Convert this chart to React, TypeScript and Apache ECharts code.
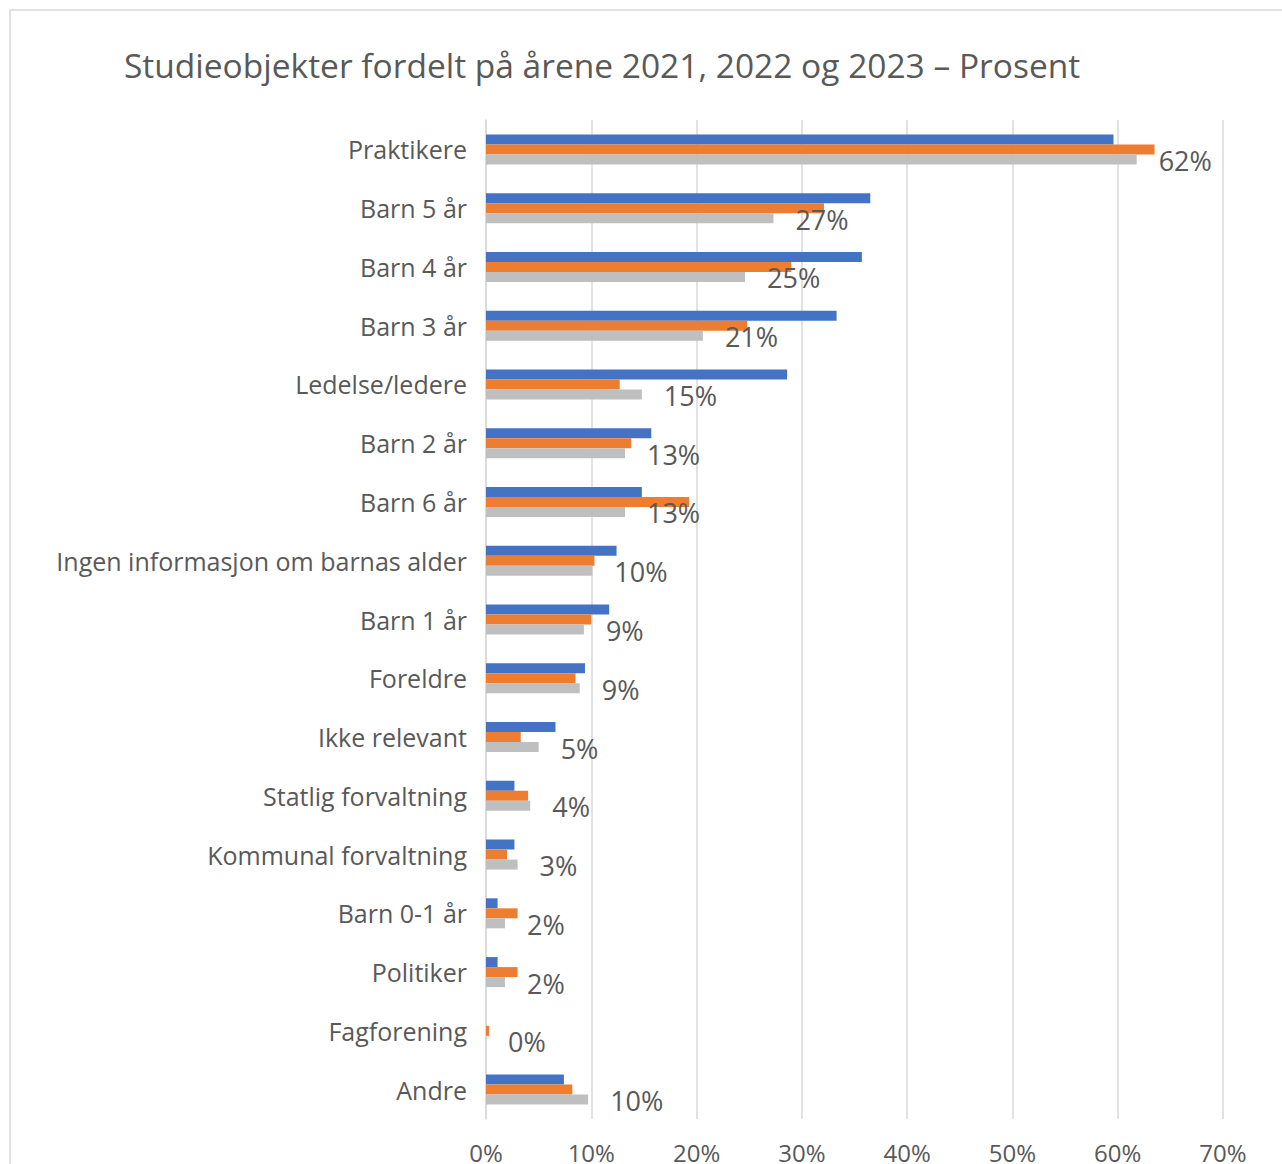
import React, { useEffect, useRef } from "react";
import * as echarts from "echarts";

const titleText = "Studieobjekter fordelt på årene 2021, 2022 og 2023 – Prosent";

const categories = [
  "Praktikere",
  "Barn 5 år",
  "Barn 4 år",
  "Barn 3 år",
  "Ledelse/ledere",
  "Barn 2 år",
  "Barn 6 år",
  "Ingen informasjon om barnas alder",
  "Barn 1 år",
  "Foreldre",
  "Ikke relevant",
  "Statlig forvaltning",
  "Kommunal forvaltning",
  "Barn 0-1 år",
  "Politiker",
  "Fagforening",
  "Andre",
];

const seriesNames = ["2021", "2022", "2023"];

const values2021 = [59.6, 36.5, 35.7, 33.3, 28.6, 15.7, 14.8, 12.4, 11.7, 9.4, 6.6, 2.7, 2.7, 1.1, 1.1, 0, 7.4];
const values2022 = [63.5, 32.1, 29.0, 24.8, 12.7, 13.8, 19.3, 10.3, 10.0, 8.5, 3.3, 4.0, 2.0, 3.0, 3.0, 0.3, 8.2];
const values2023 = [61.8, 27.3, 24.6, 20.6, 14.8, 13.2, 13.2, 10.1, 9.3, 8.9, 5.0, 4.2, 3.0, 1.8, 1.8, 0, 9.7];

const xTicks = { min: 0, max: 70, interval: 10 };

const colors = ["#4472C4", "#ED7D31", "#BFBFBF"];
const textColor = "#595959";
const font = "'Open Sans', 'Noto Sans', sans-serif";

export default function App() {
  const ref = useRef<HTMLDivElement>(null);

  useEffect(() => {
    if (!ref.current) return;
    const chart = echarts.init(ref.current, null, { renderer: "svg" });
    const data = [values2021, values2022, values2023];
    chart.setOption({
      animation: false,
      backgroundColor: "#ffffff",
      textStyle: { fontFamily: font },
      graphic: [
        {
          type: "rect",
          shape: { x: 10, y: 10, width: 1400, height: 1400 },
          style: { fill: "none", stroke: "#d9d9d9", lineWidth: 1.5 },
          silent: true,
          z: -10,
        },
      ],
      title: {
        text: titleText,
        left: 119,
        top: 43,
        textStyle: {
          fontFamily: font,
          fontSize: 33.5,
          fontWeight: "normal",
          color: textColor,
        },
      },
      grid: { left: 486, right: 59, top: 120, bottom: 44, containLabel: false },
      xAxis: {
        type: "value",
        min: xTicks.min,
        max: xTicks.max,
        interval: xTicks.interval,
        axisLine: { show: false },
        axisTick: { show: false },
        splitLine: { show: true, lineStyle: { color: "#d9d9d9", width: 1.5 } },
        axisLabel: {
          formatter: "{value}%",
          color: textColor,
          fontSize: 24,
          fontFamily: font,
          margin: 21,
        },
      },
      yAxis: {
        type: "category",
        data: categories,
        inverse: true,
        axisLine: { show: true, lineStyle: { color: "#d9d9d9", width: 1.5 } },
        axisTick: { show: false },
        axisLabel: {
          color: textColor,
          fontSize: 25,
          fontFamily: font,
          margin: 19,
        },
      },
      series: seriesNames.map((name, i) => ({
        name,
        type: "bar",
        data: data[i],
        barWidth: 10,
        barGap: "0%",
        itemStyle: { color: colors[i] },
        label:
          i === 2
            ? {
                show: true,
                position: "right",
                distance: 22,
                offset: [0, 1],
                formatter: (p: any) => Math.round(p.value) + "%",
                color: textColor,
                fontSize: 27,
                fontFamily: font,
              }
            : { show: false },
      })),
    });
    return () => chart.dispose();
  }, []);

  return (
    <div
      ref={ref}
      style={{ position: "absolute", left: 0, top: 0, width: 1282, height: 1164 }}
    />
  );
}
